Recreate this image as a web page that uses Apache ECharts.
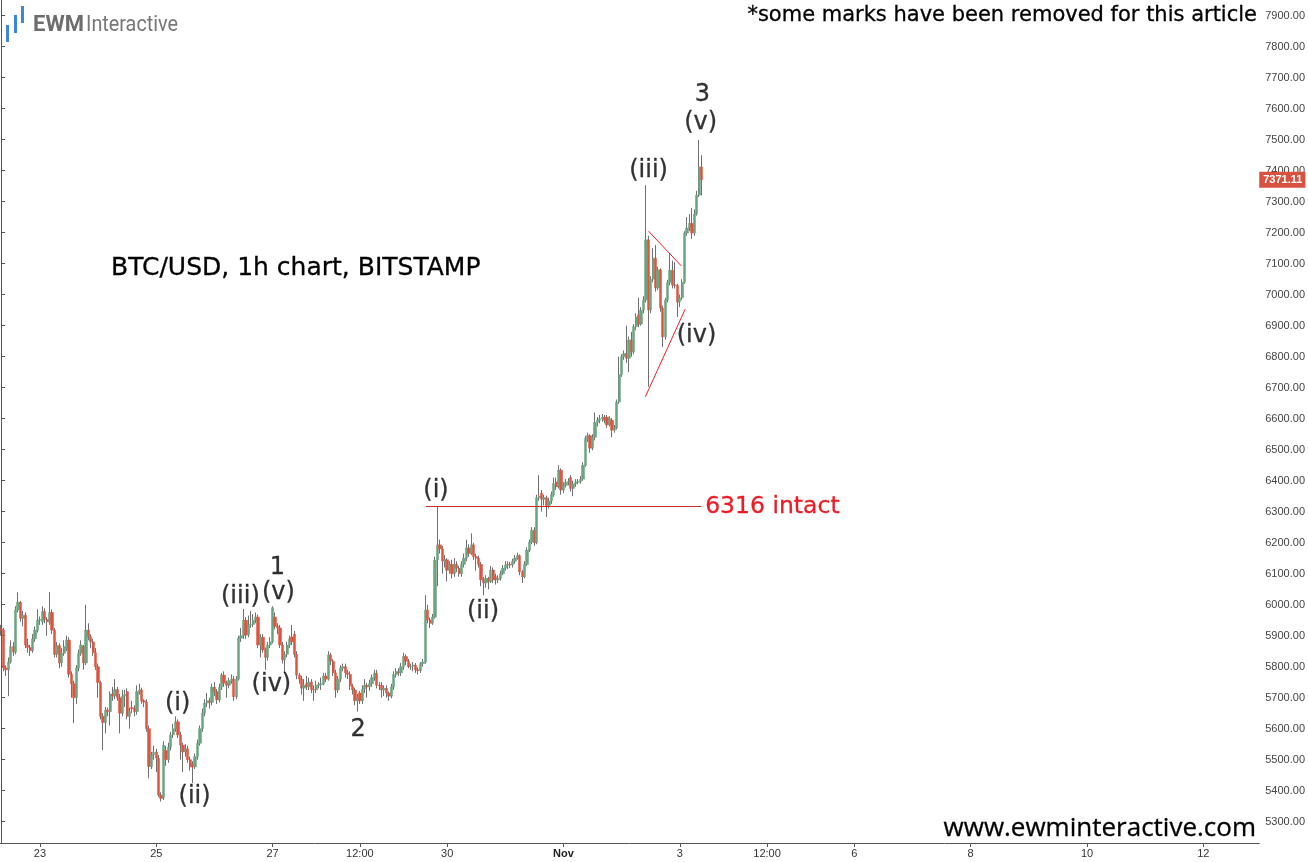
<!DOCTYPE html>
<html><head><meta charset="utf-8">
<script src="https://cdn.jsdelivr.net/npm/echarts@6/dist/echarts.min.js"></script>
<style>html,body{margin:0;padding:0;background:#fff}#c{width:1308px;height:862px}</style>
</head><body><div id="c"></div>
<script>
// BTC/USD 1h candles, first candle = Oct 22 08:00, one candle per hour (hour offset = index)
const opens = [
5922,5918,5796,5790,5815,5865,5847,5983,6008,5956,
5966,5870,5862,5852,5890,5918,5950,5945,5978,5952,
5945,5975,5918,5840,5868,5812,5843,5860,5886,5776,
5745,5700,5796,5843,5865,5812,5918,5897,5880,5845,
5800,5749,5640,5620,5660,5655,5712,5705,5726,5700,
5650,5705,5720,5640,5668,5665,5655,5720,5725,5690,
5686,5600,5478,5515,5525,5505,5386,5378,5530,5500,
5540,5580,5600,5622,5580,5547,5525,5535,5500,5485,
5477,5510,5553,5600,5650,5683,5690,5685,5734,5720,
5693,5734,5773,5747,5740,5755,5760,5703,5760,5892,
5900,5950,5902,5934,5936,5950,5960,5870,5895,5854,
5830,5870,5880,5960,5930,5925,5870,5822,5840,5870,
5896,5905,5840,5773,5760,5731,5745,5735,5750,5727,
5725,5740,5742,5745,5770,5760,5838,5818,5780,5725,
5760,5795,5800,5780,5775,5738,5725,5690,5715,5690,
5728,5740,5735,5745,5765,5779,5740,5740,5725,5730,
5715,5705,5735,5775,5782,5780,5800,5833,5818,5800,
5802,5805,5790,5788,5810,5815,5983,5951,5940,5960,
6144,6193,6180,6141,6145,6111,6130,6100,6130,6118,
6100,6130,6150,6183,6165,6193,6155,6150,6130,6080,
6070,6085,6075,6112,6090,6080,6085,6100,6118,6128,
6130,6128,6140,6151,6158,6106,6090,6130,6176,6202,
6240,6200,6345,6360,6340,6345,6320,6335,6355,6396,
6380,6434,6370,6385,6395,6410,6375,6390,6395,6397,
6405,6450,6537,6545,6505,6540,6588,6595,6600,6605,
6605,6580,6595,6563,6570,6654,6742,6800,6810,6795,
6854,6815,6897,6935,6905,6950,6983,7177,6951,7050,
7118,7022,7080,6957,6864,6983,7039,7079,7031,7030,
6976,6990,7040,7199,7215,7230,7199,7260,7321,7412];
const closes = [
5918,5796,5790,5815,5865,5847,5983,6008,5956,5966,
5870,5862,5852,5890,5918,5950,5952,5978,5952,5945,
5975,5918,5840,5868,5812,5843,5865,5886,5776,5745,
5700,5796,5843,5870,5812,5918,5897,5880,5845,5800,
5749,5640,5620,5660,5655,5712,5705,5726,5700,5650,
5705,5710,5640,5655,5665,5655,5720,5725,5690,5686,
5600,5478,5515,5525,5505,5386,5375,5547,5500,5540,
5580,5600,5622,5580,5547,5525,5535,5500,5477,5477,
5510,5553,5600,5650,5683,5690,5685,5734,5720,5693,
5734,5773,5747,5740,5755,5760,5703,5760,5892,5900,
5950,5902,5934,5936,5950,5960,5870,5895,5854,5830,
5870,5880,5990,5930,5925,5870,5822,5840,5870,5890,
5880,5840,5773,5760,5731,5740,5735,5750,5727,5725,
5740,5742,5745,5770,5760,5838,5818,5780,5725,5760,
5795,5800,5780,5775,5738,5725,5690,5700,5690,5728,
5740,5735,5745,5765,5779,5740,5738,5725,5730,5715,
5705,5735,5775,5785,5780,5800,5833,5818,5800,5802,
5805,5790,5788,5810,5815,5983,5951,5940,5960,6144,
6193,6180,6141,6145,6111,6130,6100,6130,6118,6100,
6130,6150,6183,6165,6193,6155,6150,6130,6080,6070,
6085,6075,6112,6080,6080,6085,6100,6118,6128,6130,
6128,6140,6151,6158,6106,6090,6130,6176,6202,6240,
6200,6345,6350,6340,6345,6320,6335,6355,6391,6380,
6434,6370,6385,6395,6398,6375,6390,6395,6397,6405,
6450,6537,6545,6505,6540,6588,6595,6600,6605,6595,
6580,6600,6563,6570,6654,6742,6800,6810,6795,6854,
6815,6897,6928,6905,6950,6983,7177,6951,7050,7118,
7022,7080,6957,6864,6983,7039,7079,7031,7030,6976,
6990,7040,7199,7215,7230,7199,7260,7321,7412,7371.11];
const lows = [
5900,5785,5770,5705,5810,5835,5840,5975,5945,5930,
5860,5845,5835,5845,5880,5910,5935,5935,5940,5900,
5935,5905,5830,5830,5795,5800,5835,5850,5765,5700,
5618,5680,5785,5835,5790,5805,5885,5860,5835,5790,
5700,5630,5531,5585,5640,5610,5690,5695,5690,5585,
5640,5670,5630,5600,5650,5640,5645,5710,5680,5670,
5590,5440,5470,5500,5460,5380,5365,5370,5480,5490,
5530,5570,5590,5570,5500,5460,5510,5490,5465,5425,
5470,5500,5545,5590,5640,5670,5665,5675,5705,5680,
5685,5725,5735,5700,5730,5745,5690,5695,5755,5880,
5890,5890,5895,5925,5928,5940,5860,5830,5845,5790,
5820,5860,5875,5920,5905,5860,5810,5780,5830,5860,
5870,5830,5760,5745,5710,5690,5725,5725,5715,5690,
5715,5730,5725,5740,5750,5755,5805,5770,5700,5715,
5750,5785,5765,5760,5725,5710,5676,5655,5680,5680,
5715,5700,5722,5735,5755,5730,5725,5700,5705,5700,
5690,5698,5725,5765,5770,5770,5790,5805,5795,5790,
5785,5780,5775,5780,5800,5810,5940,5925,5935,5955,
6060,6165,6100,6120,6075,6100,6085,6090,6105,6090,
6090,6120,6140,6155,6160,6145,6110,6120,6060,6030,
6055,6050,6070,6070,6065,6070,6078,6095,6110,6115,
6118,6120,6132,6145,6095,6070,6085,6125,6170,6195,
6190,6195,6335,6300,6320,6283,6310,6325,6348,6370,
6375,6355,6360,6378,6385,6365,6350,6380,6388,6390,
6400,6445,6525,6490,6498,6530,6575,6585,6590,6585,
6570,6575,6540,6555,6565,6648,6735,6790,6780,6750,
6800,6808,6885,6895,6900,6940,6975,6703,6940,7040,
7010,7015,6945,6831,6855,6975,7030,7020,7020,6928,
6960,6982,7035,7190,7205,7180,7190,7255,7315,7320];
const highs = [
5935,5925,5805,5830,5885,5880,5995,6040,6012,5980,
5975,5890,5870,5905,5930,5985,5962,5995,5988,5960,
6041,5985,5925,5880,5875,5860,5885,5900,5895,5785,
5755,5805,5855,5885,5870,6000,5940,5905,5890,5860,
5810,5755,5650,5670,5668,5720,5735,5760,5735,5712,
5725,5725,5730,5668,5690,5675,5740,5745,5732,5695,
5695,5610,5525,5545,5535,5515,5395,5560,5545,5555,
5590,5615,5640,5630,5590,5555,5550,5545,5510,5495,
5520,5565,5610,5665,5695,5715,5700,5745,5750,5728,
5745,5780,5785,5755,5765,5775,5770,5770,5900,5925,
5986,5960,5965,5980,5970,5975,5968,5905,5905,5862,
5880,5895,5995,5975,5940,5935,5880,5850,5880,5900,
5935,5915,5850,5780,5770,5760,5770,5765,5760,5740,
5755,5750,5765,5780,5780,5850,5845,5825,5790,5770,
5805,5810,5810,5790,5785,5745,5732,5712,5722,5740,
5760,5748,5758,5775,5790,5790,5750,5750,5740,5740,
5720,5745,5785,5795,5795,5812,5845,5840,5825,5810,
5815,5812,5798,5815,5825,6031,6000,5958,5970,6155,
6316,6210,6190,6160,6150,6140,6145,6150,6140,6125,
6140,6165,6210,6195,6230,6200,6165,6158,6138,6090,
6095,6090,6125,6120,6100,6095,6110,6128,6140,6140,
6138,6148,6160,6168,6162,6112,6140,6185,6210,6250,
6250,6355,6418,6370,6355,6352,6345,6365,6410,6410,
6450,6440,6395,6405,6408,6418,6400,6405,6405,6415,
6460,6545,6555,6550,6550,6620,6605,6612,6615,6612,
6612,6608,6602,6580,6662,6800,6808,6820,6900,6865,
6880,6905,6940,6990,6960,6995,7353,7190,7060,7150,
7160,7090,7085,6965,6990,7048,7134,7110,7105,7035,
7000,7050,7205,7250,7260,7280,7275,7335,7499,7450];

// x axis: hours since Oct 22 08:00
const tickHours  = [16, 64, 112, 148, 184, 232, 280, 316, 352, 400, 448, 496];
const tickLabels = ['23','25','27','12:00','30','Nov','3','12:00','6','8','10','12'];
const priceTicks = [5300,5400,5500,5600,5700,5800,5900,6000,6100,6200,6300,6400,6500,6600,6700,6800,6900,7000,7100,7200,7300,7400,7500,7600,7700,7800,7900];
const lastPrice = 7371.11;
const keyLevel = 6316;
const keyLevelHours = [175.3, 288.8];
const waveTexts  = ['1','(iii)','(v)','(iv)','(i)','(ii)','2','(i)','(ii)','(iii)','(iv)','(v)','3'];
const waveHours  = [114, 98.7, 114.4, 111.5, 72.8, 79.8, 147.3, 179.4, 198.8, 267.1, 286.9, 288.6, 289.3];
const wavePrices = [6118, 6025, 6038, 5741, 5680, 5380, 5596, 6367, 5976, 7399, 6867, 7554, 7644];
const triUpperHours = [267.1, 280.6], triUpperPrices = [7205, 7093];
const triLowerHours = [265.8, 282.2], triLowerPrices = [6671, 6953];

const GREEN = '#68a580', RED = '#dd5540', WICK = '#707070';
const bodies = [], wicks = [];
for (let i = 0; i < closes.length; i++) {
  const o = opens[i], c = closes[i];
  bodies.push([i, o, c, Math.min(o, c), Math.max(o, c)]);
  wicks.push([i, lows[i], highs[i], lows[i], highs[i]]);
}
const waveData = waveTexts.map((t, i) => [waveHours[i], wavePrices[i], t]);

const chart = echarts.init(document.getElementById('c'));
const FONT = 'DejaVu Sans';
const TXT = { textBorderColor: '#000', textBorderWidth: 0.3 };
const GTXT = { stroke: '#000', lineWidth: 0.3 };
chart.setOption({
  animation: false,
  backgroundColor: '#fff',
  grid: { left: 0, right: 46, top: 0, bottom: 19 },
  xAxis: {
    type: 'value', min: -0.47, max: 519.05,
    splitLine: { show: false },
    axisLine: { show: true, onZero: false, lineStyle: { color: '#555', width: 1 } },
    axisTick: { show: true, length: 4, customValues: tickHours, lineStyle: { color: '#555' } },
    axisLabel: {
      customValues: tickHours, margin: 5, fontSize: 11, color: '#333', fontFamily: 'Liberation Sans',
      formatter: v => { const i = tickHours.indexOf(v); const s = i >= 0 ? tickLabels[i] : ''; return s === 'Nov' ? '{b|Nov}' : s; },
      rich: { b: { fontWeight: 'bold', fontSize: 11, color: '#222', fontFamily: 'Liberation Sans' } }
    }
  },
  yAxis: {
    type: 'value', position: 'right', min: 5231.3, max: 7950.6, scale: true,
    splitLine: { show: false },
    axisLine: { show: true, lineStyle: { color: '#555', width: 1 } },
    axisTick: { show: true, length: 4, customValues: priceTicks, lineStyle: { color: '#555' } },
    axisLabel: { customValues: priceTicks, margin: 6, fontSize: 11, color: '#444', fontFamily: 'Liberation Sans',
      formatter: v => v.toFixed(2) }
  },
  graphic: [
    { type: 'rect', shape: { x: 6, y: 25, width: 3, height: 17 }, style: { fill: '#3d87d6' } },
    { type: 'rect', shape: { x: 14, y: 15, width: 3, height: 18 }, style: { fill: '#3d87d6' } },
    { type: 'rect', shape: { x: 21, y: 6, width: 3, height: 17 }, style: { fill: '#3d87d6' } },
    { type: 'text', x: 33, y: 25, style: { text: 'EWM', font: 'bold 22px Roboto', fill: '#6d6d6d', verticalAlign: 'middle' } },
    { type: 'text', x: 86, y: 25, scaleX: 0.9, style: { text: 'Interactive', font: '22px Roboto', fill: '#777', verticalAlign: 'middle' } },
    { type: 'text', x: 1257, y: 16, style: Object.assign({ text: '*some marks have been removed for this article', font: '21px "DejaVu Sans"', fill: '#000', align: 'right', verticalAlign: 'middle' }, GTXT) },
    { type: 'text', x: 111, y: 268, style: Object.assign({ text: 'BTC/USD, 1h chart, BITSTAMP', font: '25px "DejaVu Sans"', fill: '#000', verticalAlign: 'middle' }, GTXT) },
    { type: 'text', x: 1256, y: 829, style: Object.assign({ text: 'www.ewminteractive.com', font: '26px "Open Sans"', fill: '#000', align: 'right', verticalAlign: 'middle' }, GTXT) }
  ],
  series: [
    {
      type: 'candlestick', name: 'wicks', data: wicks, encode: { x: 0, y: [1, 2, 3, 4] },
      barWidth: 0.1, silent: true,
      itemStyle: { color: WICK, color0: WICK, borderColor: WICK, borderColor0: WICK, borderColorDoji: WICK, borderWidth: 1 },
      markLine: {
        silent: true, symbol: 'none', animation: false,
        data: [
          [ { coord: [keyLevelHours[0], keyLevel] }, { coord: [keyLevelHours[1], keyLevel] } ]
        ],
        lineStyle: { color: '#cc2a2a', width: 1, type: 'solid' },
        label: { show: true, position: 'end', formatter: keyLevel + ' intact', color: '#ee1b24', fontSize: 23.5, fontFamily: FONT, distance: 4,
          textBorderColor: '#ee1b24', textBorderWidth: 0.3 }
      }
    },
    {
      type: 'candlestick', name: 'BTC/USD', data: bodies, encode: { x: 0, y: [1, 2, 3, 4] },
      barWidth: 2.8, clip: false,
      itemStyle: { color: GREEN, color0: RED, borderColor: GREEN, borderColor0: RED, borderColorDoji: '#3a2a2a', borderWidth: 0.5 },
      markLine: {
        silent: true, symbol: 'none', animation: false,
        data: [
          [ { coord: [triUpperHours[0], triUpperPrices[0]] }, { coord: [triUpperHours[1], triUpperPrices[1]] } ],
          [ { coord: [triLowerHours[0], triLowerPrices[0]] }, { coord: [triLowerHours[1], triLowerPrices[1]] } ]
        ],
        lineStyle: { color: '#e8202a', width: 1, type: 'solid' },
        label: { show: false }
      }
    },
    {
      type: 'line', name: 'last', data: [], silent: true, clip: false,
      markLine: {
        silent: true, symbol: 'none', animation: false,
        data: [ { yAxis: lastPrice } ],
        lineStyle: { color: 'rgba(0,0,0,0)', width: 0 },
        label: { show: true, position: 'end', distance: 0, formatter: lastPrice.toFixed(2), color: '#fff', fontWeight: 'bold',
          fontSize: 11, fontFamily: 'Liberation Sans', backgroundColor: '#d9523f', padding: [3, 3, 2, 4] }
      }
    },
    {
      type: 'scatter', name: 'waves', data: waveData, symbolSize: 1, silent: true,
      itemStyle: { color: 'rgba(0,0,0,0)' },
      label: Object.assign({ show: true, position: 'inside', formatter: p => p.data[2], fontSize: 24, color: '#000', fontFamily: FONT }, TXT)
    }
  ]
});
</script></body></html>
